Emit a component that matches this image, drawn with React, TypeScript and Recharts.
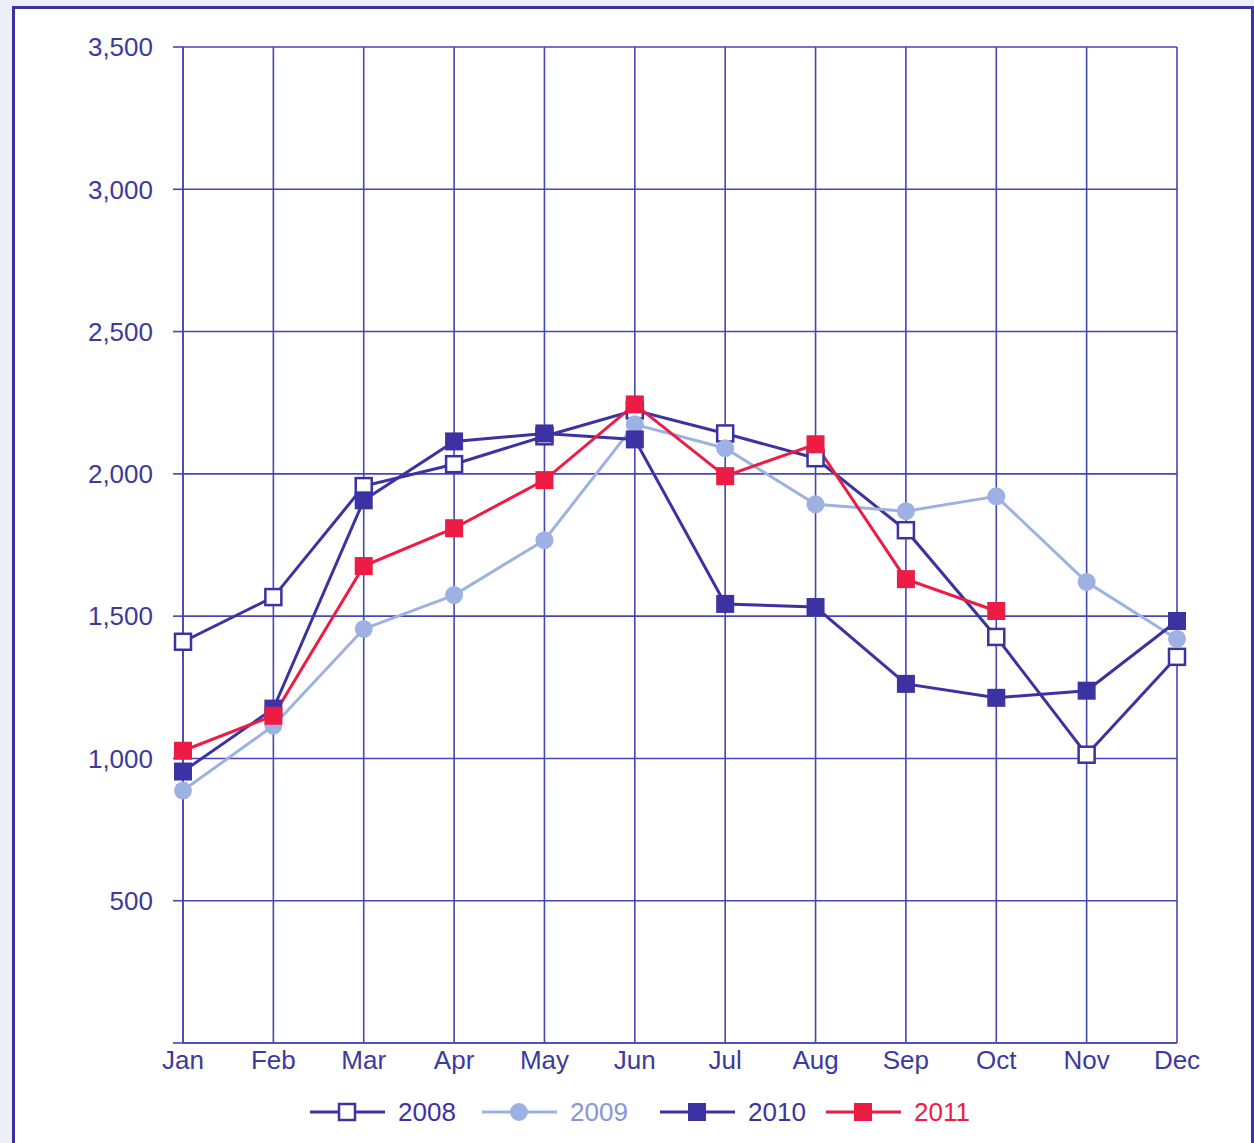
import { LineChart, Line, XAxis, YAxis, CartesianGrid, Legend } from 'recharts';

const months = ['Jan', 'Feb', 'Mar', 'Apr', 'May', 'Jun', 'Jul', 'Aug', 'Sep', 'Oct', 'Nov', 'Dec'];
const s2008 = [1410, 1567, 1957, 2034, 2132, 2223, 2142, 2055, 1802, 1427, 1013, 1357];
const s2009 = [887, 1115, 1455, 1574, 1767, 2174, 2090, 1893, 1869, 1921, 1620, 1420];
const s2010 = [954, 1175, 1907, 2114, 2142, 2121, 1543, 1532, 1262, 1213, 1238, 1483];
const s2011 = [1027, 1150, 1676, 1809, 1978, 2244, 1992, 2104, 1630, 1518, null, null];
const yTicks = [0, 500, 1000, 1500, 2000, 2500, 3000, 3500];

const data = months.map((m, i) => ({
  month: m,
  '2008': s2008[i],
  '2009': s2009[i],
  '2010': s2010[i],
  '2011': s2011[i],
}));

const DARK = '#3d32a2';
const LIGHT = '#9db1e3';
const RED = '#ec1c44';
const GRID = '#4646b6';
const TEXT = '#3b3a9e';
const FONT = '"Liberation Sans", Arial, sans-serif';

type MarkerKind = 'open' | 'circle' | 'square';

const seriesInfo: { key: string; color: string; text: string; marker: MarkerKind }[] = [
  { key: '2008', color: DARK, text: DARK, marker: 'open' },
  { key: '2009', color: LIGHT, text: '#8696d6', marker: 'circle' },
  { key: '2010', color: DARK, text: DARK, marker: 'square' },
  { key: '2011', color: RED, text: RED, marker: 'square' },
];

function marker(kind: MarkerKind, color: string, cx: number, cy: number, key?: string) {
  if (kind === 'open') {
    return <rect key={key} x={cx - 8} y={cy - 8} width={16} height={16} fill="#fff" stroke={color} strokeWidth={2.5} />;
  }
  if (kind === 'circle') {
    return <circle key={key} cx={cx} cy={cy} r={9} fill={color} />;
  }
  return <rect key={key} x={cx - 9} y={cy - 9} width={18} height={18} fill={color} />;
}

function makeDot(kind: MarkerKind, color: string, name: string) {
  return (props: any) => {
    const { cx, cy, index } = props;
    const k = `${name}-${index}`;
    if (cx == null || cy == null || props.value == null) return <g key={k} />;
    return marker(kind, color, cx, cy, k);
  };
}

function LegendContent() {
  return (
    <svg width={1254} height={40}>
      {seriesInfo.map((s, i) => {
        const x0 = [310, 482, 660, 826][i];
        return (
          <g key={s.key}>
            <line x1={x0} x2={x0 + 75} y1={20} y2={20} stroke={s.color} strokeWidth={3} />
            {marker(s.marker, s.color, x0 + 37, 20)}
            <text x={x0 + 88} y={29} fill={s.text} fontSize={26} fontFamily={FONT}>{s.key}</text>
          </g>
        );
      })}
    </svg>
  );
}

export default function App() {
  return (
    <div style={{ position: 'absolute', left: 0, top: 0, width: 1254, height: 1143, background: '#eceffa', overflow: 'hidden', fontFamily: FONT }}>
      <div style={{ position: 'absolute', left: 12, top: 6, width: 1236, height: 1160, background: '#fff', border: `3px solid ${DARK}` }} />
      <div style={{ position: 'absolute', left: 0, top: 0 }}>
        <LineChart width={1254} height={1143} data={data} margin={{ top: 47, right: 77, left: 0, bottom: 11 }}>
          <CartesianGrid stroke={GRID} strokeWidth={1.6} />
          <XAxis
            dataKey="month"
            height={49}
            tickLine={false}
            tickSize={0}
            tickMargin={8}
            axisLine={{ stroke: GRID, strokeWidth: 1.6 }}
            tick={{ fill: TEXT, fontSize: 26, fontFamily: FONT }}
            interval={0}
          />
          <YAxis
            width={183}
            domain={[0, 3500]}
            ticks={yTicks}
            tickSize={10}
            tickMargin={20}
            tickFormatter={(v: number) => (v === 0 ? '' : v.toLocaleString('en-US'))}
            tickLine={{ stroke: GRID, strokeWidth: 1.6 }}
            axisLine={{ stroke: GRID, strokeWidth: 1.6 }}
            tick={{ fill: TEXT, fontSize: 26, fontFamily: FONT }}
          />
          <Legend verticalAlign="bottom" height={40} content={() => <LegendContent />} wrapperStyle={{ height: 40 }} />
          {seriesInfo.map((s) => (
            <Line
              key={s.key}
              dataKey={s.key}
              stroke={s.color}
              strokeWidth={3}
              type="linear"
              connectNulls={false}
              dot={makeDot(s.marker, s.color, s.key)}
              activeDot={false}
              isAnimationActive={false}
            />
          ))}
        </LineChart>
      </div>
    </div>
  );
}
